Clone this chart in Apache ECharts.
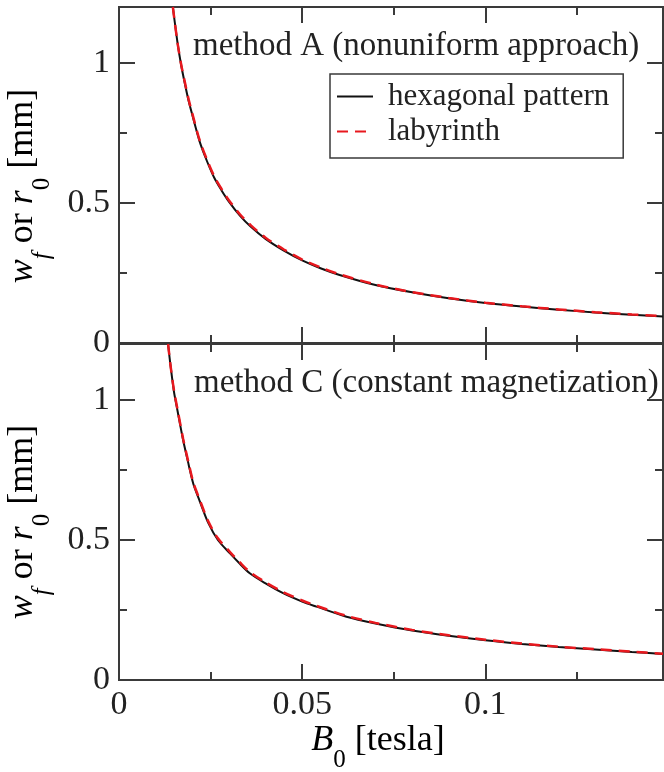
<!DOCTYPE html>
<html>
<head>
<meta charset="utf-8">
<script src="https://cdn.jsdelivr.net/npm/echarts@6/dist/echarts.min.js"></script>
<style>
  html, body { margin: 0; padding: 0; background: #fff; }
  #chart { width: 664px; height: 772px; }
</style>
</head>
<body>
<div id="chart"></div>
<script>
// method A (nonuniform approach), top panel
var B_A   = [0.0147, 0.016, 0.017, 0.018, 0.019, 0.020, 0.022, 0.024, 0.026, 0.028, 0.030, 0.033, 0.036, 0.040, 0.045, 0.050, 0.055, 0.060, 0.070, 0.080, 0.090, 0.100, 0.110, 0.120, 0.130, 0.140, 0.1485];
var hexA  = [1.20, 1.07, 0.99, 0.925, 0.865, 0.815, 0.72, 0.65, 0.59, 0.545, 0.505, 0.455, 0.415, 0.372, 0.330, 0.295, 0.267, 0.244, 0.207, 0.181, 0.160, 0.143, 0.130, 0.119, 0.109, 0.101, 0.095];
var labA  = [1.20, 1.07, 0.993, 0.93, 0.87, 0.82, 0.725, 0.655, 0.595, 0.55, 0.51, 0.46, 0.42, 0.376, 0.334, 0.298, 0.27, 0.246, 0.209, 0.182, 0.161, 0.144, 0.131, 0.120, 0.110, 0.102, 0.096];
// method C (constant magnetization), bottom panel
var B_C   = [0.0134, 0.014, 0.015, 0.016, 0.0175, 0.019, 0.0203, 0.022, 0.0244, 0.027, 0.0303, 0.033, 0.0357, 0.040, 0.0448, 0.050, 0.0539, 0.0621, 0.070, 0.080, 0.090, 0.100, 0.110, 0.120, 0.130, 0.140, 0.1485];
var hexC  = [1.20, 1.13, 1.03, 0.96, 0.857, 0.77, 0.70, 0.64, 0.56, 0.50, 0.452, 0.415, 0.381, 0.345, 0.310, 0.280, 0.262, 0.226, 0.202, 0.177, 0.158, 0.142, 0.129, 0.118, 0.109, 0.100, 0.093];
var labC  = [1.20, 1.13, 1.035, 0.965, 0.862, 0.775, 0.705, 0.645, 0.566, 0.506, 0.457, 0.42, 0.386, 0.349, 0.314, 0.284, 0.265, 0.229, 0.204, 0.179, 0.160, 0.144, 0.130, 0.119, 0.110, 0.101, 0.094];

var xTicks = [0, 0.05, 0.1];
var yTicks = [0, 0.5, 1];
var panelText = ['method A (nonuniform approach)', 'method C (constant magnetization)'];
var seriesNames = ['hexagonal pattern', 'labyrinth'];

var XMAX = 0.1485, YMAX = 1.2;
var FONT = 'Liberation Serif';
var AXC = '#3a3a3a';

function pairs(xs, ys) {
    return xs.map(function (x, i) { return [x, ys[i]]; });
}

var grids = [
    { left: 119, top: 7, width: 544, height: 336, outerBoundsMode: 'none' },
    { left: 119, top: 344, width: 544, height: 336, outerBoundsMode: 'none' }
];

// each panel gets 4 x axes and 4 y axes: major/minor ticks on every side of the frame
var xAxes = [], yAxes = [], mainX = [], mainY = [];
function xAx(gi, pos, interval, len, labels) {
    xAxes.push({
        gridIndex: gi, type: 'value', position: pos, min: 0, max: XMAX, interval: interval,
        axisLine: { show: true, onZero: false, lineStyle: { color: AXC, width: 2 } },
        axisTick: { show: true, inside: true, length: len, lineStyle: { color: AXC, width: 2 } },
        axisLabel: {
            show: labels, showMaxLabel: false, margin: 8, color: '#222',
            fontFamily: FONT, fontSize: 34,
            formatter: function (v) { return xTicks.indexOf(+v.toFixed(3)) >= 0 ? String(+v.toFixed(3)) : ''; }
        },
        splitLine: { show: false }
    });
    return xAxes.length - 1;
}
function yAx(gi, pos, interval, len, labels) {
    yAxes.push({
        gridIndex: gi, type: 'value', position: pos, min: 0, max: YMAX, interval: interval,
        axisLine: { show: true, onZero: false, lineStyle: { color: AXC, width: 2 } },
        axisTick: { show: true, inside: true, length: len, lineStyle: { color: AXC, width: 2 } },
        axisLabel: {
            show: labels, showMaxLabel: false, margin: 9, color: '#222',
            fontFamily: FONT, fontSize: 34,
            formatter: function (v) { return yTicks.indexOf(+v.toFixed(2)) >= 0 ? String(+v.toFixed(2)) : ''; }
        },
        splitLine: { show: false }
    });
    return yAxes.length - 1;
}

for (var gi = 0; gi < 2; gi++) {
    mainX.push(xAx(gi, 'bottom', 0.05, 16, gi === 1));
    xAx(gi, 'bottom', 0.025, 8, false);
    xAx(gi, 'top', 0.05, 16, false);
    xAx(gi, 'top', 0.025, 8, false);
    mainY.push(yAx(gi, 'left', 0.5, 16, true));
    yAx(gi, 'left', 0.25, 8, false);
    yAx(gi, 'right', 0.5, 16, false);
    yAx(gi, 'right', 0.25, 8, false);
}

var data = [[hexA, labA, B_A], [hexC, labC, B_C]];
var series = [];
for (var p = 0; p < 2; p++) {
    series.push({
        name: seriesNames[0], type: 'line', xAxisIndex: mainX[p], yAxisIndex: mainY[p],
        data: pairs(data[p][2], data[p][0]), symbol: 'none', smooth: 0.3,
        lineStyle: { color: '#111', width: 2 }, itemStyle: { color: '#111' }
    });
    series.push({
        name: seriesNames[1], type: 'line', xAxisIndex: mainX[p], yAxisIndex: mainY[p],
        data: pairs(data[p][2], data[p][1]), symbol: 'none', smooth: 0.3,
        lineStyle: { color: '#e8181e', width: 2.5, type: [11, 7] }, itemStyle: { color: '#e8181e' }
    });
}

var rich = {
    n:  { fontFamily: FONT, fontSize: 36, color: '#222', lineHeight: 50, verticalAlign: 'top' },
    i:  { fontFamily: FONT, fontSize: 36, fontStyle: 'italic', color: '#222', lineHeight: 50, verticalAlign: 'top' },
    s:  { fontFamily: FONT, fontSize: 25, color: '#222', lineHeight: 12, verticalAlign: 'bottom' },
    is: { fontFamily: FONT, fontSize: 25, fontStyle: 'italic', color: '#222', lineHeight: 12, verticalAlign: 'bottom' }
};
var yName = '{i|w}{is|f}{n| or }{i|r}{s|0}{n| [mm]}';

var chart = echarts.init(document.getElementById('chart'));
chart.setOption({
    backgroundColor: '#fff',
    animation: false,
    grid: grids,
    xAxis: xAxes,
    yAxis: yAxes,
    legend: {
        data: seriesNames, orient: 'vertical', left: 330, top: 74,
        backgroundColor: '#fff', borderColor: AXC, borderWidth: 1.5,
        padding: [7, 14, 11, 6], itemGap: 4, itemWidth: 36, itemHeight: 14,
        itemStyle: { opacity: 0 },
        textStyle: { fontFamily: FONT, fontSize: 31, color: '#222', padding: [0, 0, 0, 10] }
    },
    graphic: [
        { type: 'text', left: 193, top: 30, style: { text: panelText[0], font: '33px "Liberation Serif"', fill: '#222' } },
        { type: 'text', left: 194, top: 367, style: { text: panelText[1], font: '33px "Liberation Serif"', fill: '#222' } },
        { type: 'text', x: 30, y: 186, rotation: Math.PI / 2, style: { text: yName, rich: rich, align: 'center', verticalAlign: 'middle' } },
        { type: 'text', x: 30, y: 522, rotation: Math.PI / 2, style: { text: yName, rich: rich, align: 'center', verticalAlign: 'middle' } },
        { type: 'text', x: 378, y: 748, style: { text: '{i|B}{s|0}{n| [tesla]}', rich: rich, align: 'center', verticalAlign: 'middle' } }
    ],
    series: series
});
</script>
</body>
</html>
